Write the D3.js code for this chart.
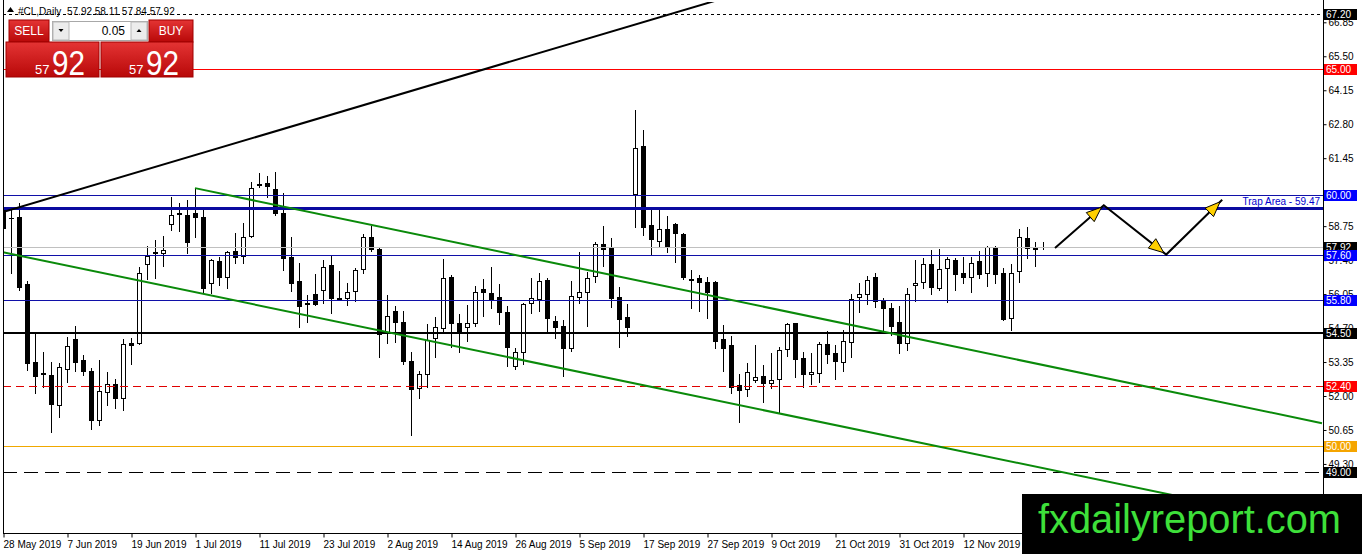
<!DOCTYPE html>
<html><head><meta charset="utf-8">
<script src="https://cdn.jsdelivr.net/npm/d3@7"></script>
<style>
body{margin:0;background:#fff;overflow:hidden}
svg{display:block}
text{font-family:"Liberation Sans",Arial,sans-serif}
</style>
</head><body>
<svg id="c" width="1362" height="554"></svg>
<script>
// ---------------- DATA ----------------
const opens=[59.47,59.08,59.11,56.45,53.35,52.91,52.83,51.64,53.07,54.26,
53.43,52.99,51.04,52.16,52.47,51.92,54.10,54.10,57.24,57.72,
57.68,58.83,59.27,59.19,59.27,59.11,56.49,57.36,56.73,57.76,
57.56,58.36,60.42,60.46,60.22,59.27,57.52,56.57,55.69,56.05,
56.21,57.20,55.89,55.89,56.17,57.05,58.32,57.84,54.50,55.38,
54.94,53.39,52.32,52.87,54.30,54.70,56.73,54.90,54.74,54.90,
56.25,56.09,55.93,55.34,53.19,53.75,55.69,55.85,56.61,54.98,
54.78,53.90,55.93,56.13,56.77,58.04,57.88,55.93,55.14,60.03,
61.93,58.79,58.16,58.63,58.83,58.44,56.65,56.69,56.53,56.53,
54.26,54.02,52.43,52.28,52.63,52.79,52.51,52.67,53.87,54.90,
53.51,52.87,52.91,54.06,53.71,53.35,54.14,55.93,56.05,56.73,
55.81,55.49,54.94,54.10,56.41,56.53,57.24,56.29,57.08,57.40,
56.89,56.73,57.36,56.89,57.88,56.89,55.10,56.97,58.28,57.88,57.92];
const highs=[59.59,59.47,59.67,56.57,54.54,53.75,53.35,53.31,54.34,54.78,
53.63,53.11,53.43,52.95,52.67,54.26,54.30,57.12,57.96,58.20,
58.36,59.91,59.67,59.79,60.22,59.47,57.44,57.52,57.76,58.48,
58.87,60.50,60.86,60.74,60.90,60.07,58.32,57.28,56.01,56.85,
57.40,57.56,56.97,56.49,57.08,58.44,58.75,57.92,56.01,55.57,
55.38,53.75,52.99,54.86,55.14,57.44,56.81,55.26,55.61,56.37,
56.65,57.12,56.45,55.57,53.90,55.69,56.69,56.89,56.69,55.18,
55.02,56.57,57.72,56.93,58.12,58.75,58.28,56.33,55.65,63.36,
62.57,59.39,59.47,59.15,58.87,58.48,57.01,56.81,56.73,56.57,
54.82,54.38,52.87,53.31,54.02,53.23,53.71,53.94,54.90,54.90,
53.75,53.71,54.14,54.58,54.02,54.62,56.05,56.49,56.77,56.89,
55.89,55.69,55.57,56.29,57.40,57.48,57.80,57.84,57.52,57.48,
57.52,57.52,57.76,57.96,57.96,57.08,57.24,58.63,58.71,58.12,58.11];
const lows=[58.52,56.89,56.21,53.03,52.12,52.35,50.57,51.16,52.55,52.99,
52.83,50.69,50.84,51.64,51.52,51.44,53.27,54.06,56.65,56.69,
57.16,58.60,58.56,57.68,58.32,56.13,56.09,56.41,56.29,57.28,
57.28,58.32,60.30,59.91,59.19,57.01,56.17,54.74,54.94,55.61,
55.69,55.30,55.81,55.61,55.77,56.89,57.76,53.55,54.10,54.14,
53.27,50.45,51.92,52.35,53.55,54.50,53.94,53.75,54.18,54.78,
55.18,55.49,54.86,53.19,53.07,53.27,55.30,55.38,54.54,54.30,
52.79,53.79,55.69,54.78,56.53,57.16,55.53,53.94,54.38,58.71,
58.40,57.60,57.96,57.72,57.32,56.65,55.49,55.38,55.10,53.90,
52.99,52.12,50.96,52.00,52.55,51.76,52.32,51.32,53.59,52.75,
52.35,52.47,52.55,53.31,52.67,52.99,53.55,55.34,55.65,55.53,
54.58,54.42,53.71,53.83,55.77,56.29,56.05,56.21,55.73,56.21,
56.49,56.13,56.69,56.37,56.49,55.02,54.62,56.53,57.48,57.16,57.84];
const closes=[58.67,59.06,56.33,53.31,52.79,52.87,51.68,53.15,53.98,53.35,
52.99,51.04,52.20,52.47,51.92,54.06,54.02,56.89,57.56,57.68,
57.80,59.19,59.23,58.12,59.11,56.29,57.40,56.73,57.72,57.52,
58.32,60.26,60.40,60.34,59.27,57.48,56.49,55.57,55.65,55.65,
57.12,55.89,55.85,56.13,57.01,58.32,57.84,54.46,55.18,54.94,
53.39,52.28,52.87,54.22,54.74,56.69,54.90,54.50,54.90,56.13,
56.13,55.81,55.34,53.94,53.75,55.65,55.89,56.57,55.10,54.74,
53.90,55.97,56.13,56.69,58.04,57.84,55.89,55.06,54.74,61.85,
58.71,58.24,58.63,57.96,58.48,56.73,56.61,56.53,56.13,54.18,
53.90,52.35,52.24,52.95,52.75,52.51,52.63,53.83,54.86,53.47,
52.87,52.95,54.06,53.67,53.39,54.18,55.85,56.05,56.61,55.77,
55.49,54.78,54.10,56.05,56.49,57.24,56.33,57.05,57.44,56.85,
56.73,57.28,56.85,57.92,56.85,55.06,56.89,58.32,57.88,57.84,57.92];
const xTickLabels=["28 May 2019","7 Jun 2019","19 Jun 2019","1 Jul 2019","11 Jul 2019","23 Jul 2019",
"2 Aug 2019","14 Aug 2019","26 Aug 2019","5 Sep 2019","17 Sep 2019","27 Sep 2019","9 Oct 2019",
"21 Oct 2019","31 Oct 2019","12 Nov 2019"];
const yTickValues=[66.85,65.50,64.15,62.80,61.45,58.75,57.40,56.05,54.70,53.35,52.00,50.65,49.30,47.95];
const levelPrices=[67.20,65.00,60.00,59.47,57.92,57.60,55.80,54.50,52.40,50.00,49.00];
const trapLabel="Trap Area - 59.47";
const trendBlack=[[0,59.31],[100,68.74]];
const trendGreenUpper=[[24,60.26],[164.875,50.92]];
const trendGreenLower=[[0,57.71],[164.875,46.83]];
const forecastPath=[[131.5,57.88],[137.6,59.58],[145.4,57.62],[152.4,59.80]];
const header={symbol:"#CL,Daily",ohlc:"57.92 58.11 57.84 57.92"};
const priceBig="92", priceSmall="57", lotSize="0.05";

// ---------------- SCALES ----------------
const svg=d3.select("#c");
const X0=3, X1=1323, Y0=2, Y1=533;
const x=d3.scaleLinear().domain([0,165]).range([3,1323]);
const y=d3.scaleLinear().domain([49,67.2]).range([471.5,13.5]);

svg.append("defs").append("clipPath").attr("id","plot")
  .append("rect").attr("x",X0).attr("y",Y0).attr("width",X1-X0).attr("height",Y1-Y0);

const plot=svg.append("g").attr("clip-path","url(#plot)");

// ---------------- CANDLES ----------------
const bars=d3.range(opens.length).map(i=>({i,o:opens[i],h:highs[i],l:lows[i],c:closes[i]}));
const cg=plot.append("g");
bars.forEach(b=>{
  const cx=Math.round(x(b.i))+0.5;
  cg.append("line").attr("x1",cx).attr("x2",cx)
    .attr("y1",Math.round(y(b.h))).attr("y2",Math.round(y(b.l))+1)
    .attr("stroke","#000").attr("stroke-width",1);
  const yo=Math.round(y(b.o)), yc=Math.round(y(b.c));
  const top=Math.min(yo,yc), bot=Math.max(yo,yc);
  if(bot-top<1){
    cg.append("line").attr("x1",cx-2.5).attr("x2",cx+2.5).attr("y1",top+0.5).attr("y2",top+0.5)
      .attr("stroke","#000").attr("stroke-width",1);
  } else if(b.c<b.o){
    cg.append("rect").attr("x",cx-2.5).attr("y",top).attr("width",5).attr("height",bot-top+1).attr("fill","#000");
  } else {
    cg.append("rect").attr("x",cx-2).attr("y",top+0.5).attr("width",4).attr("height",bot-top)
      .attr("fill","#fff").attr("stroke","#000").attr("stroke-width",1);
  }
});

// ---------------- HORIZONTAL LEVELS ----------------
const levelStyles=[
  {stroke:"#000",w:1,dash:"3,3",box:"#000"},
  {stroke:"#ff0000",w:1,dash:null,box:"#ff0000"},
  {stroke:"#1010a8",w:1,dash:null,box:"#0000ff"},
  {stroke:"#0a0aa0",w:3,dash:null,box:null},
  {stroke:"#c0c0c0",w:1,dash:null,box:"#000"},
  {stroke:"#1010a8",w:1,dash:null,box:"#0000ff"},
  {stroke:"#1010a8",w:1,dash:null,box:"#0000ff"},
  {stroke:"#000",w:2,dash:null,box:"#000"},
  {stroke:"#e00000",w:1,dash:"8,5",box:"#ff0000"},
  {stroke:"#f0a800",w:1,dash:null,box:"#f5a500"},
  {stroke:"#000",w:1,dash:"14,7",box:"#000"}
];
const lg=plot.append("g");
levelPrices.forEach((p,k)=>{
  const s=levelStyles[k];
  const yy=s.w%2===1?Math.round(y(p))+0.5:Math.round(y(p));
  lg.append("line").attr("x1",X0).attr("x2",X1).attr("y1",yy).attr("y2",yy)
    .attr("stroke",s.stroke).attr("stroke-width",s.w)
    .attr("stroke-dasharray",s.dash);
});

// ---------------- TREND LINES ----------------
const lineGen=d3.line().x(d=>x(d[0])).y(d=>y(d[1]));
plot.append("path").attr("d",lineGen(trendBlack)).attr("fill","none").attr("stroke","#000").attr("stroke-width",2);
plot.append("path").attr("d",lineGen(trendGreenUpper)).attr("fill","none").attr("stroke","#0a8a0a").attr("stroke-width",2);
plot.append("path").attr("d",lineGen(trendGreenLower)).attr("fill","none").attr("stroke","#0a8a0a").attr("stroke-width",2);

// trap area label
plot.append("text").attr("x",1320).attr("y",Math.round(y(levelPrices[3]))-3)
  .attr("text-anchor","end").attr("font-size",10).attr("fill","#0000cc").text(trapLabel);

// ---------------- FORECAST ARROWS ----------------
plot.append("path").attr("d",lineGen(forecastPath)).attr("fill","none")
  .attr("stroke","#000").attr("stroke-width",2).attr("stroke-linejoin","miter");
for(let k=1;k<forecastPath.length;k++){
  const ax=x(forecastPath[k-1][0]), ay=y(forecastPath[k-1][1]);
  const bx=x(forecastPath[k][0]), by=y(forecastPath[k][1]);
  const len=Math.hypot(bx-ax,by-ay), ux=(bx-ax)/len, uy=(by-ay)/len;
  const tx=bx-ux*3, ty=by-uy*3;
  const L=15, W=6;
  const baseX=tx-ux*L, baseY=ty-uy*L;
  const pts=[[tx,ty],[baseX-uy*W,baseY+ux*W],[baseX+uy*W,baseY-ux*W]];
  plot.append("polygon").attr("points",pts.map(p=>p.join(",")).join(" "))
    .attr("fill","#ffd000").attr("stroke","#000").attr("stroke-width",1);
}

// ---------------- AXES ----------------
svg.append("line").attr("x1",3.5).attr("x2",3.5).attr("y1",0).attr("y2",Y1+0.5).attr("stroke","#000");
svg.append("line").attr("x1",X1+0.5).attr("x2",X1+0.5).attr("y1",0).attr("y2",554).attr("stroke","#000");
svg.append("line").attr("x1",3).attr("x2",X1+1).attr("y1",Y1+0.5).attr("y2",Y1+0.5).attr("stroke","#000");

const ya=svg.append("g").attr("transform",`translate(${X1+0.5},0)`)
  .call(d3.axisRight(y).tickValues(yTickValues).tickSize(3).tickPadding(2).tickFormat(d3.format(".2f")));
ya.select(".domain").remove();
ya.selectAll(".tick text").attr("font-size",10).attr("fill","#000").attr("font-family","Liberation Sans, Arial, sans-serif");
ya.selectAll(".tick line").attr("stroke","#000");

levelPrices.forEach((p,k)=>{
  const s=levelStyles[k];
  if(!s.box) return;
  const yy=y(p);
  svg.append("rect").attr("x",X1+1).attr("y",Math.round(yy)-5).attr("width",33).attr("height",11).attr("fill",s.box);
  svg.append("text").attr("x",X1+3).attr("y",Math.round(yy)+4).attr("font-size",10).attr("fill","#fff")
    .text(d3.format(".2f")(p));
});

const xa=svg.append("g").attr("transform",`translate(0.5,${Y1+0.5})`)
  .call(d3.axisBottom(x).tickValues(xTickLabels.map((d,k)=>k*8)).tickSize(4)
  .tickFormat((d,k)=>xTickLabels[k]));
xa.select(".domain").remove();
xa.selectAll(".tick line").attr("stroke","#000");
xa.selectAll(".tick text").attr("font-size",10).attr("fill","#000").attr("text-anchor","start")
  .attr("dx",-0.5).attr("dy",0).attr("y",14).attr("font-family","Liberation Sans, Arial, sans-serif");

// ---------------- HEADER ----------------
svg.append("polygon").attr("points","7,12 10.5,7 14,12").attr("fill","#000");
svg.append("text").attr("x",18).attr("y",15).attr("font-size",10).attr("fill","#000").text(header.symbol);
svg.append("text").attr("x",67).attr("y",15).attr("font-size",10).attr("fill","#000").text(header.ohlc);

// ---------------- ONE-CLICK PANEL ----------------
const defs=svg.select("defs");
const gr=defs.append("linearGradient").attr("id","red").attr("x1",0).attr("y1",0).attr("x2",0).attr("y2",1);
gr.append("stop").attr("offset","0%").attr("stop-color","#e43434");
gr.append("stop").attr("offset","100%").attr("stop-color","#b80808");
const pn=svg.append("g");
pn.append("rect").attr("x",9).attr("y",20).attr("width",40).attr("height",22).attr("fill","url(#red)").attr("stroke","#a00000");
pn.append("text").attr("x",29).attr("y",35).attr("text-anchor","middle").attr("font-size",12).attr("fill","#fff").text("SELL");
pn.append("rect").attr("x",149).attr("y",20).attr("width",44).attr("height",22).attr("fill","url(#red)").attr("stroke","#a00000");
pn.append("text").attr("x",171).attr("y",35).attr("text-anchor","middle").attr("font-size",12).attr("fill","#fff").text("BUY");
pn.append("rect").attr("x",52.5).attr("y",21.5).attr("width",95).attr("height",19).attr("fill","#fff").attr("stroke","#a8a8a8");
pn.append("rect").attr("x",53).attr("y",22).attr("width",16).attr("height",18).attr("fill","#ececec").attr("stroke","#b8b8b8");
pn.append("rect").attr("x",131).attr("y",22).attr("width",16).attr("height",18).attr("fill","#ececec").attr("stroke","#b8b8b8");
pn.append("polygon").attr("points","58.5,29 63.5,29 61,32").attr("fill","#000");
pn.append("polygon").attr("points","136.5,32 141.5,32 139,29").attr("fill","#000");
pn.append("text").attr("x",125).attr("y",35).attr("text-anchor","end").attr("font-size",12).attr("fill","#000").text(lotSize);
pn.append("rect").attr("x",6).attr("y",42).attr("width",93).attr("height",35).attr("fill","url(#red)").attr("stroke","#a00000");
pn.append("rect").attr("x",101).attr("y",42).attr("width",92).attr("height",35).attr("fill","url(#red)").attr("stroke","#a00000");
pn.append("text").attr("x",35).attr("y",74).attr("font-size",13).attr("fill","#fff").text(priceSmall);
pn.append("text").attr("x",52).attr("y",75).attr("font-size",35).attr("fill","#fff")
  .attr("textLength",33).attr("lengthAdjust","spacingAndGlyphs").text(priceBig);
pn.append("text").attr("x",129).attr("y",74).attr("font-size",13).attr("fill","#fff").text(priceSmall);
pn.append("text").attr("x",146).attr("y",75).attr("font-size",35).attr("fill","#fff")
  .attr("textLength",33).attr("lengthAdjust","spacingAndGlyphs").text(priceBig);

// ---------------- WATERMARK ----------------
svg.append("rect").attr("x",1022).attr("y",494).attr("width",340).attr("height",60).attr("fill","#000");
svg.append("text").attr("x",1038).attr("y",533).attr("font-size",40).attr("fill","#3ee03a")
  .attr("textLength",303).attr("lengthAdjust","spacingAndGlyphs").text("fxdailyreport.com");
</script>
</body></html>
